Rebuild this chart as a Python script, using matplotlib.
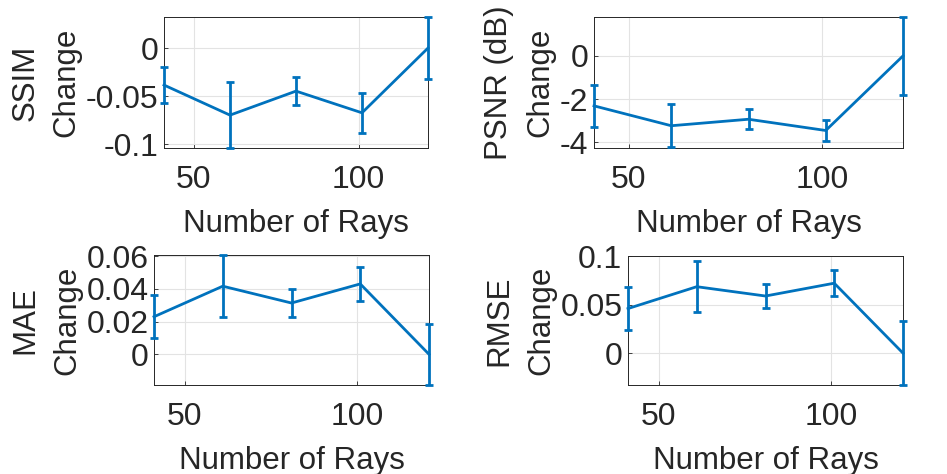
import numpy as np
import matplotlib
matplotlib.use('Agg')
import matplotlib.pyplot as plt

rays = [41, 61, 81, 101, 121]
ssim = [-0.0385, -0.0698, -0.0448, -0.0674, 0.0]
ssim_err = [0.019, 0.034, 0.0143, 0.021, 0.032]
psnr = [-2.31, -3.23, -2.93, -3.45, 0.0]
psnr_err = [0.97, 1.0, 0.47, 0.5, 1.8]
mae = [0.023, 0.0417, 0.0314, 0.0431, 0.0]
mae_err = [0.0133, 0.019, 0.0086, 0.0106, 0.0187]
rmse = [0.0459, 0.0684, 0.0588, 0.072, 0.0]
rmse_err = [0.0225, 0.026, 0.0122, 0.0136, 0.0328]

plt.rcParams['font.family'] = ['Liberation Sans', 'DejaVu Sans']
plt.rcParams['axes.unicode_minus'] = False

blue = '#0072BD'
dark = '#262626'
W, H = 947, 474

fig = plt.figure(figsize=(W / 100, H / 100), dpi=100)

panels = [
    # (left, right, top, bottom) in pixels, data, err, label, ylim, yticks, ticklabels
    ((164, 428, 17, 148), ssim, ssim_err, 'SSIM\nChange', (-0.104, 0.0323),
     [-0.1, -0.05, 0], ['-0.1', '-0.05', '0']),
    ((594, 903, 17, 148), psnr, psnr_err, 'PSNR (dB)\nChange', (-4.26, 1.8),
     [-4, -2, 0], ['-4', '-2', '0']),
    ((154, 429, 255, 385), mae, mae_err, 'MAE\nChange', (-0.0188, 0.0608),
     [0, 0.02, 0.04, 0.06], ['0', '0.02', '0.04', '0.06']),
    ((628, 903, 256, 385), rmse, rmse_err, 'RMSE\nChange', (-0.0328, 0.1),
     [0, 0.05, 0.1], ['0', '0.05', '0.1']),
]

for (l, r, t, b), vals, err, lab, ylim, yt, ytl in panels:
    ax = fig.add_axes([l / W, 1 - b / H, (r - l) / W, (b - t) / H])
    ax.errorbar(rays, vals, yerr=err, color=blue, lw=2, capsize=3,
                capthick=2, elinewidth=2, clip_on=False, zorder=3)
    ax.set_xlim(41, 121)
    ax.set_ylim(*ylim)
    ax.set_xticks([50, 100])
    ax.set_yticks(yt)
    ax.set_yticklabels(ytl)
    ax.grid(True, color='#e3e3e3', lw=0.8)
    ax.set_axisbelow(True)
    ax.tick_params(direction='in', length=3, width=0.6, colors=dark,
                   labelsize=23, labelcolor=dark)
    ax.tick_params(axis='x', pad=12)
    ax.tick_params(axis='y', pad=4)
    for s in ax.spines.values():
        s.set_color(dark)
        s.set_linewidth(0.7)
    ax.set_xlabel('Number of Rays', fontsize=22.5, color=dark, labelpad=10)
    ax.set_ylabel(lab, fontsize=22.5, color=dark, labelpad=3, linespacing=1.5)

fig.savefig('out.png', dpi=100)
